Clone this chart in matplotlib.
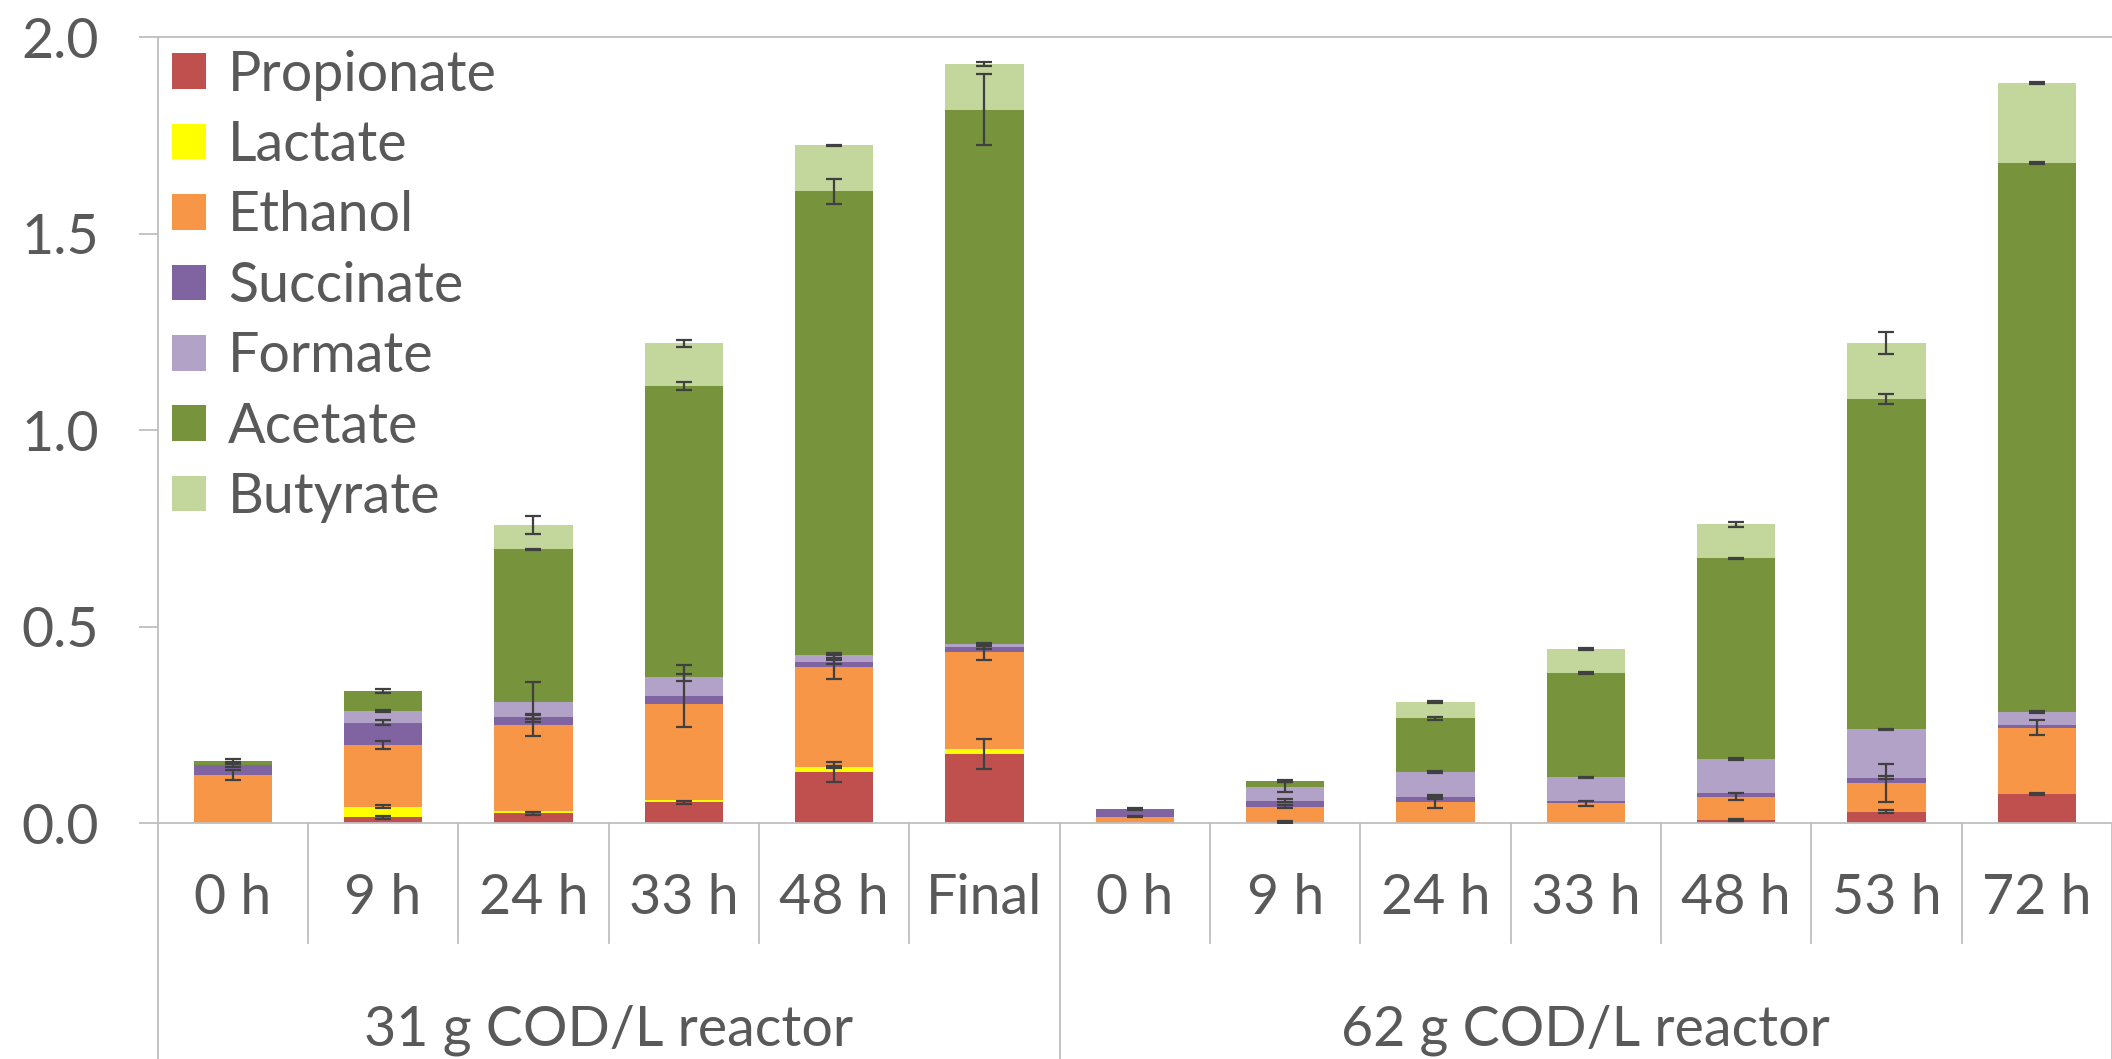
import numpy as np
import matplotlib
matplotlib.use("Agg")
import matplotlib.pyplot as plt
from matplotlib.transforms import blended_transform_factory

plt.rcParams['font.family'] = ['Lato', 'DejaVu Sans']

categories = ["0 h", "9 h", "24 h", "33 h", "48 h", "Final",
              "0 h", "9 h", "24 h", "33 h", "48 h", "53 h", "72 h"]
groups = ["31 g COD/L reactor", "62 g COD/L reactor"]
group_sizes = [6, 7]

series_names = ["Propionate", "Lactate", "Ethanol", "Succinate", "Formate", "Acetate", "Butyrate"]

propionate = [0.000, 0.015, 0.025, 0.053, 0.130, 0.176, 0.000, 0.003, 0.000, 0.000, 0.008, 0.030, 0.075]
lactate    = [0.000, 0.027, 0.007, 0.007, 0.013, 0.013, 0.000, 0.000, 0.000, 0.000, 0.000, 0.000, 0.000]
ethanol    = [0.123, 0.157, 0.218, 0.243, 0.254, 0.246, 0.017, 0.039, 0.053, 0.051, 0.060, 0.072, 0.168]
succinate  = [0.025, 0.057, 0.021, 0.021, 0.013, 0.013, 0.020, 0.015, 0.014, 0.007, 0.010, 0.014, 0.006]
formate    = [0.000, 0.030, 0.038, 0.047, 0.017, 0.008, 0.000, 0.036, 0.063, 0.059, 0.085, 0.123, 0.034]
acetate    = [0.011, 0.051, 0.388, 0.742, 1.181, 1.360, 0.000, 0.015, 0.137, 0.265, 0.511, 0.841, 1.397]
butyrate   = [0.000, 0.000, 0.061, 0.108, 0.117, 0.116, 0.000, 0.000, 0.042, 0.062, 0.087, 0.142, 0.203]

propionate_err = [0.000, 0.003, 0.005, 0.005, 0.025, 0.039, 0.000, 0.002, 0.000, 0.000, 0.003, 0.003, 0.002]
lactate_err    = [0.000, 0.004, 0.000, 0.000, 0.003, 0.000, 0.000, 0.000, 0.000, 0.000, 0.000, 0.000, 0.000]
ethanol_err    = [0.012, 0.010, 0.028, 0.000, 0.030, 0.020, 0.002, 0.004, 0.014, 0.006, 0.008, 0.049, 0.019]
succinate_err  = [0.004, 0.007, 0.005, 0.080, 0.005, 0.004, 0.003, 0.004, 0.004, 0.000, 0.000, 0.004, 0.000]
formate_err    = [0.000, 0.002, 0.051, 0.008, 0.006, 0.003, 0.000, 0.013, 0.002, 0.002, 0.002, 0.002, 0.003]
acetate_err    = [0.004, 0.006, 0.002, 0.011, 0.031, 0.090, 0.000, 0.003, 0.003, 0.003, 0.002, 0.012, 0.002]
butyrate_err   = [0.000, 0.000, 0.023, 0.008, 0.002, 0.004, 0.000, 0.000, 0.002, 0.002, 0.006, 0.027, 0.002]

colors = ["#C0504D", "#FFFF00", "#F79646", "#8064A2", "#B3A2C7", "#77933C", "#C3D69B"]

values = [propionate, lactate, ethanol, succinate, formate, acetate, butyrate]
errors = [propionate_err, lactate_err, ethanol_err, succinate_err, formate_err, acetate_err, butyrate_err]

W, H = 2112, 1059
fig = plt.figure(figsize=(W / 100, H / 100), dpi=100)
ax_left, ax_right = 157.6 / W, 1.0
ax_bottom, ax_top = (H - 823.3) / H, (H - 37.3) / H
ax = fig.add_axes([ax_left, ax_bottom, ax_right - ax_left, ax_top - ax_bottom])

x = np.arange(len(categories))
bottom = np.zeros(len(categories))
tops = []
for name, vals, col in zip(series_names, values, colors):
    v = np.array(vals)
    ax.bar(x, v, width=0.52, bottom=bottom, color=col, label=name, zorder=2, linewidth=0)
    bottom = bottom + v
    tops.append(bottom.copy())

for top, err in zip(tops, errors):
    e = np.array(err)
    m = e > 0
    ax.errorbar(x[m], top[m], yerr=e[m], fmt='none', ecolor='#404040',
                elinewidth=1.6, capsize=6, capthick=1.6, zorder=4)

grey = '#BFBFBF'
txt = '#595959'
ax.set_xlim(-0.5, 12.5)
ax.set_ylim(0, 2.0)
ax.set_yticks([0, 0.5, 1.0, 1.5, 2.0])
ax.set_yticklabels(["0.0", "0.5", "1.0", "1.5", "2.0"])
ax.tick_params(axis='y', direction='out', length=14, width=1.3, color=grey,
               labelsize=40, labelcolor=txt, pad=28)
ax.set_xticks(x)
ax.set_xticklabels(categories)
ax.tick_params(axis='x', length=0, labelsize=40, labelcolor=txt, pad=36)

for s in ['right']:
    ax.spines[s].set_visible(False)
for s in ['left', 'bottom', 'top']:
    ax.spines[s].set_color(grey)
    ax.spines[s].set_linewidth(1.3)

trans = blended_transform_factory(ax.transData, ax.transAxes)
axh = 823.3 - 37.3
short_y = -(943 - 823.3) / axh
long_y = -(H - 823.3) / axh
starts = np.cumsum([0] + group_sizes)
for i in range(len(categories) + 1):
    xb = i - 0.5
    if i in starts:
        ax.plot([xb, xb], [0, long_y], transform=trans, color=grey, lw=1.3, clip_on=False)
    else:
        ax.plot([xb, xb], [0, short_y], transform=trans, color=grey, lw=1.3, clip_on=False)

grp_y = -(1045 - 823.3) / axh
for g, s0, n in zip(groups, starts[:-1], group_sizes):
    ax.text(s0 - 0.5 + n / 2, grp_y, g, transform=trans, ha='center', va='baseline',
            fontsize=40, color=txt)

leg = ax.legend(loc='upper left', bbox_to_anchor=(0.003, 0.995), frameon=False,
                fontsize=40, handlelength=0.61, handleheight=0.61, handletextpad=0.4,
                labelspacing=0.35, borderaxespad=0.1, borderpad=0.05)
for t in leg.get_texts():
    t.set_color(txt)

fig.savefig("out.png", dpi=100)
